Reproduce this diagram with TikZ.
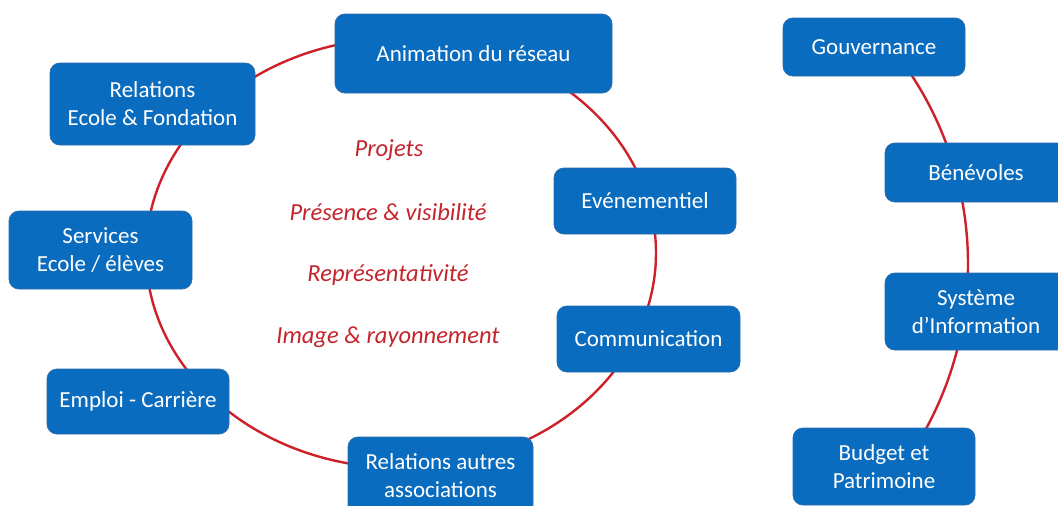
\documentclass[tikz,border=0pt]{standalone}
\usepackage{fontspec}
\setmainfont{Carlito}
\usetikzlibrary{backgrounds,calc}
\definecolor{boxblue}{RGB}{10,108,190}
\definecolor{boxedge}{RGB}{40,110,175}
\definecolor{ringred}{RGB}{205,32,40}
\definecolor{txtred}{RGB}{196,36,44}
\tikzset{
  box/.style={rectangle, rounded corners=10pt, fill=boxblue, draw=boxedge, line width=0.8pt,
    text=white, align=center, inner sep=0pt, font=\fontsize{23}{28}\selectfont},
  ring/.style={draw=ringred, line width=2.4pt},
  theme/.style={text=txtred, font=\fontsize{24.5}{28}\selectfont\itshape}
}
\begin{document}
\begin{tikzpicture}[x=1pt,y=-1pt]
\useasboundingbox (0,0) rectangle (1058,506);
\clip (0,0) rectangle (1058,506);
% ring nodes
\node[box, minimum width=277pt, minimum height=79pt] (anim) at (473.5,53.5) {Animation du réseau};
\node[box, minimum width=205pt, minimum height=82pt] (relec) at (152.5,104) {Relations\\Ecole \& Fondation};
\node[box, minimum width=182pt, minimum height=66pt] (event) at (645,201) {Evénementiel};
\node[box, minimum width=183pt, minimum height=66pt] (comm) at (648.5,339) {Communication};
\node[box, minimum width=183pt, minimum height=78pt] (serv) at (100.5,250) {Services\\Ecole / élèves};
\node[box, minimum width=182pt, minimum height=65pt] (emploi) at (138,401.5) {Emploi - Carrière};
\node[box, minimum width=185pt, minimum height=78pt] (relaut) at (440.5,476) {Relations autres\\associations};
% right column
\node[box, minimum width=182pt, minimum height=58pt] (gouv) at (874,47) {Gouvernance};
\node[box, minimum width=182pt, minimum height=59pt] (benev) at (976,172.5) {Bénévoles};
\node[box, minimum width=182pt, minimum height=77pt] (si) at (976,311.5) {Système\\d’Information};
\node[box, minimum width=182pt, minimum height=77pt] (budget) at (884,466.5) {Budget et\\Patrimoine};
% themes
\node[theme] (t1) at (389,150) {Projets};
\node[theme] (t2) at (388,212) {Présence \& visibilité};
\node[theme] (t3) at (388,275) {Représentativité};
\node[theme] (t4) at (388,337) {Image \& rayonnement};
\begin{scope}[on background layer]
  \coordinate (ringc) at (401,253);
  \draw[ring] (ringc) ellipse [x radius=255pt, y radius=215pt];
  \coordinate (arcc) at (624,264);
  \draw[ring] ($(arcc)+(41:344pt)$) arc[start angle=41, end angle=-38, radius=344pt];
\end{scope}
\end{tikzpicture}
\end{document}
